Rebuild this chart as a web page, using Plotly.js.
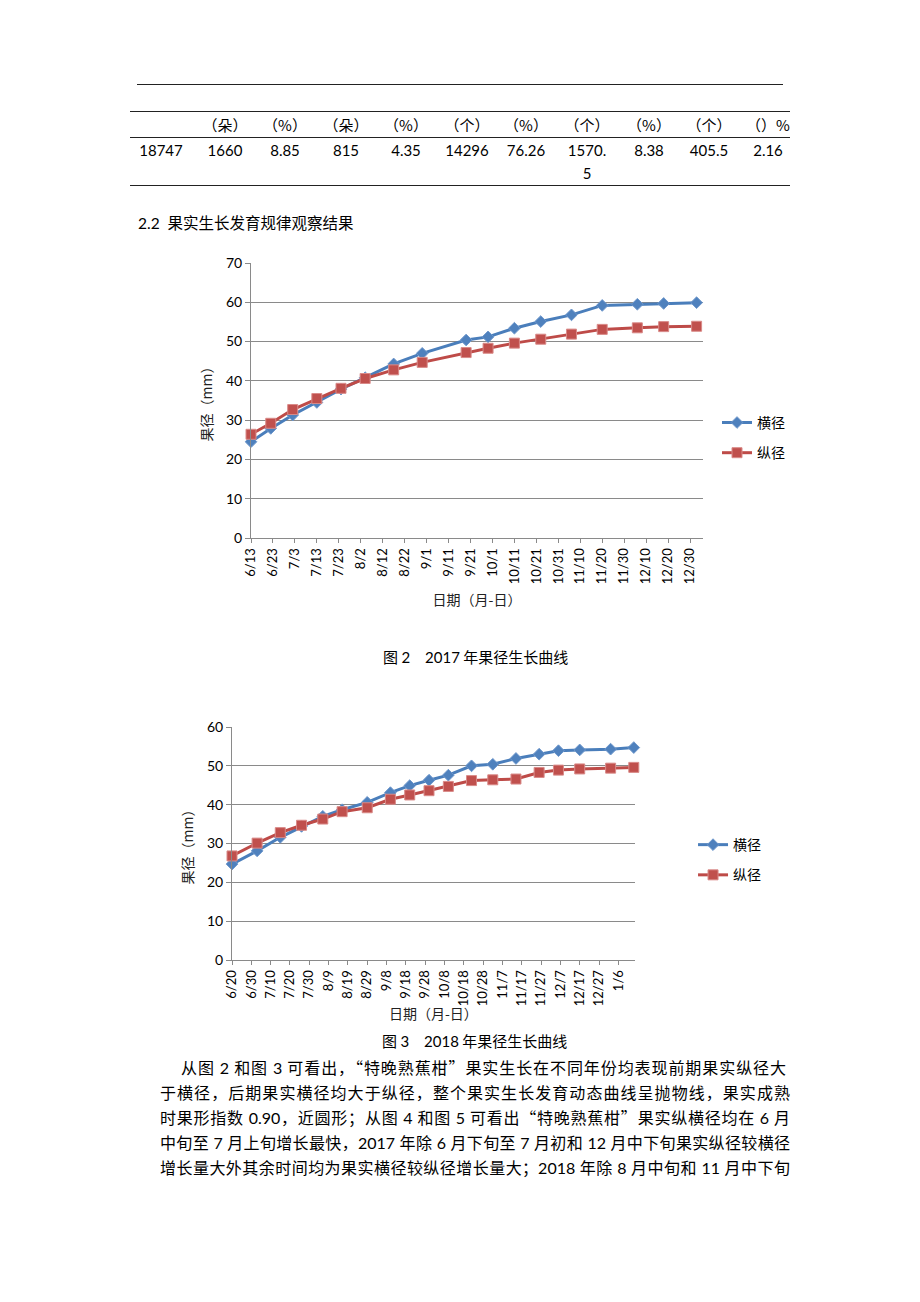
<!DOCTYPE html>
<html>
<head>
<meta charset="utf-8">
<script src="https://cdn.plot.ly/plotly-3.0.1.min.js"></script>
<style>
  html, body { margin: 0; padding: 0; background: #fff; }
  #page { position: relative; width: 920px; height: 1302px; overflow: hidden; background: #fff;
          font-family: "Lato", "Noto Sans CJK SC", sans-serif; color: #000; }
  .abs { position: absolute; white-space: nowrap; }
  .hl { position: absolute; height: 1px; background: #222; }
  .cjk { font-family: "Noto Sans CJK SC", sans-serif; }
  .cell { position: absolute; white-space: nowrap; transform: translate(-50%, -50%); font-size: 15px; }
  .para { position: absolute; font-size: 16px; line-height: 25px; height: 25px; overflow: visible;
          text-align: justify; text-align-last: justify; text-justify: inter-character; }
  .chart { position: absolute; }
</style>
</head>
<body>
<div id="page">
  <div class="hl" style="left:137px; width:646px; top:84px;"></div>
  <div class="hl" style="left:130px; width:660px; top:111px;"></div>
  <div class="hl" style="left:130px; width:660px; top:137px;"></div>
  <div class="hl" style="left:130px; width:660px; top:185px;"></div>
  <div id="table"></div>

  <div class="abs" style="left:138px; top:211px; font-size:15.5px; line-height:22px;">2.2&nbsp; <span class="cjk">果实生长发育规律观察结果</span></div>

  <div id="chart1" class="chart" style="left:150px; top:240px; width:680px; height:380px;"></div>
  <div class="abs cjk" style="left:383px; top:646px; font-size:15px; line-height:22px;">图 <span style="font-family:Lato">2</span>&emsp;<span style="font-family:Lato">2017</span> 年果径生长曲线</div>

  <div id="chart2" class="chart" style="left:130px; top:700px; width:690px; height:350px;"></div>
  <div class="abs cjk" style="left:382px; top:1030px; font-size:15px; line-height:22px;">图 <span style="font-family:Lato">3</span>&emsp;<span style="font-family:Lato">2018</span> 年果径生长曲线</div>

  <div id="text"></div>
</div>

<script>
// ---------- table data ----------
const tableHeaders = ['', '（朵）', '（%）', '（朵）', '（%）', '（个）', '（%）', '（个）', '（%）', '（个）', '（）%'];
const tableValues  = ['18747', '1660', '8.85', '815', '4.35', '14296', '76.26', '1570.', '8.38', '405.5', '2.16'];
const tableWrap    = ['', '', '', '', '', '', '', '5', '', '', ''];

// ---------- chart data: 2017 ----------
const dates2017 = ['2017-06-13','2017-06-22','2017-07-02','2017-07-13','2017-07-24','2017-08-04','2017-08-17',
                   '2017-08-30','2017-09-19','2017-09-29','2017-10-11','2017-10-23','2017-11-06','2017-11-20',
                   '2017-12-06','2017-12-18','2018-01-02'];
const heng2017 = [24.5, 27.9, 31.3, 34.5, 37.9, 40.8, 44.3, 47.0, 50.4, 51.2, 53.4, 55.1, 56.8, 59.2, 59.5, 59.7, 59.9];
const zong2017 = [26.4, 29.2, 32.7, 35.5, 38.1, 40.6, 42.8, 44.7, 47.2, 48.3, 49.6, 50.6, 51.9, 53.1, 53.5, 53.8, 53.9];

// ---------- chart data: 2018 ----------
const dates2018 = ['2018-06-20','2018-07-03','2018-07-15','2018-07-26','2018-08-06','2018-08-16','2018-08-29',
                   '2018-09-10','2018-09-20','2018-09-30','2018-10-10','2018-10-22','2018-11-02','2018-11-14',
                   '2018-11-26','2018-12-06','2018-12-17','2019-01-02','2019-01-14'];
const heng2018 = [24.7, 28.1, 31.6, 34.4, 37.0, 38.7, 40.6, 43.1, 44.9, 46.3, 47.6, 50.0, 50.4, 51.9, 53.0, 53.9, 54.1, 54.3, 54.7];
const zong2018 = [26.8, 30.1, 32.8, 34.7, 36.3, 38.2, 39.2, 41.4, 42.5, 43.6, 44.7, 46.2, 46.4, 46.6, 48.3, 48.9, 49.2, 49.4, 49.6];

const seriesNames = ['横径', '纵径'];
const xTitle = '日期（月-日）';
const yTitle = '果径（mm）';

// ---------- body text ----------
const paraLines = [
  '从图 2 和图 3 可看出，<span class="cjk">“</span>特晚熟蕉柑<span class="cjk">”</span>果实生长在不同年份均表现前期果实纵径大',
  '于横径，后期果实横径均大于纵径，整个果实生长发育动态曲线呈抛物线，果实成熟',
  '时果形指数 0.90，近圆形；从图 4 和图 5 可看出<span class="cjk">“</span>特晚熟蕉柑<span class="cjk">”</span>果实纵横径均在 6 月',
  '中旬至 7 月上旬增长最快，2017 年除 6 月下旬至 7 月初和 12 月中下旬果实纵径较横径',
  '增长量大外其余时间均为果实横径较纵径增长量大；2018 年除 8 月中旬和 11 月中下旬'
];

// ---------- build table ----------
const colX = [161, 225, 285, 346, 406, 467, 526, 587, 649, 709, 768];
const tbl = document.getElementById('table');
function addCell(txt, x, y, cls) {
  if (!txt) return;
  const d = document.createElement('div');
  d.className = 'cell' + (cls ? ' ' + cls : '');
  d.style.left = x + 'px';
  d.style.top = y + 'px';
  d.textContent = txt;
  tbl.appendChild(d);
}
tableHeaders.forEach((t, i) => addCell(t, colX[i], 124, 'cjk'));
tableValues.forEach((t, i) => addCell(t, colX[i], 150));
tableWrap.forEach((t, i) => addCell(t, colX[i], 173));

// ---------- build paragraph ----------
const txt = document.getElementById('text');
paraLines.forEach((l, i) => {
  const d = document.createElement('div');
  d.className = 'para';
  const left = i === 0 ? 181 : 160;
  d.style.left = left + 'px';
  d.style.width = (i === 0 ? 786 : 790) - left + 'px';
  d.style.top = (1055 + i * 25) + 'px';
  d.innerHTML = l;
  txt.appendChild(d);
});

// ---------- charts ----------
const LAT = 'Lato, "Noto Sans CJK SC", sans-serif';
const CJK = '"Noto Sans CJK SC", sans-serif';
const GRID = '#8a8a8a';
const BLUE_LINE = '#4A7EBB', BLUE_MK = '#4F81BD';
const RED_LINE = '#BE4B48', RED_MK = '#C0504D';
const TEN_DAYS = 10 * 24 * 3600 * 1000;

function traces(dates, heng, zong, mk) {
  return [
    { x: dates, y: heng, name: seriesNames[0], type: 'scatter', mode: 'lines+markers', legendgroup: 'a',
      cliponaxis: false,
      line: { color: BLUE_LINE, width: 3 },
      marker: { symbol: 'diamond', size: mk.d, color: BLUE_MK, line: { color: '#6f98cc', width: 1 } } },
    { x: dates, y: zong, name: seriesNames[1], type: 'scatter', mode: 'lines+markers', legendgroup: 'b',
      cliponaxis: false,
      line: { color: RED_LINE, width: 3 },
      marker: { symbol: 'square', size: mk.s, color: RED_MK, line: { color: '#d98a88', width: 1 } } }
  ];
}

function layout(o) {
  const lay = {
    width: o.w, height: o.h,
    margin: o.m,
    paper_bgcolor: 'rgba(0,0,0,0)', plot_bgcolor: 'rgba(0,0,0,0)',
    showlegend: true,
    legend: { x: o.lx, y: o.ly, xanchor: 'left', yanchor: 'middle', traceorder: 'grouped', tracegroupgap: 9,
              font: { family: CJK, size: 14, color: '#000' }, bgcolor: 'rgba(0,0,0,0)', itemwidth: 30 },
    xaxis: {
      type: 'date', range: o.xr, tick0: o.t0, dtick: TEN_DAYS, tickformat: '%-m/%-d', tickangle: -90,
      ticks: 'outside', ticklen: 4, tickcolor: GRID, showline: true, linecolor: GRID, linewidth: 1,
      showgrid: false, zeroline: false,
      tickfont: { family: LAT, size: 13, color: '#000' },
      title: { text: o.xAnn === undefined ? xTitle : '', font: { family: CJK, size: 14, color: '#222' }, standoff: o.xs || 0 }
    },
    yaxis: {
      range: o.yr, dtick: 10, ticks: 'outside', ticklen: 5, tickcolor: GRID,
      showline: true, linecolor: GRID, linewidth: 1,
      gridcolor: GRID, gridwidth: 1, zeroline: false,
      tickfont: { family: LAT, size: 14, color: '#000' },
      title: { text: yTitle, font: { family: CJK, size: 14, color: '#222' }, standoff: 10 }
    },
    annotations: []
  };
  if (o.xAnn !== undefined) {
    lay.annotations.push({ text: xTitle, xref: 'paper', yref: 'paper', x: 0.5, y: o.xAnn,
      xanchor: 'center', yanchor: 'middle', showarrow: false, font: { family: CJK, size: 14, color: '#222' } });
  }
  return lay;
}

Plotly.newPlot('chart1', traces(dates2017, heng2017, zong2017, { d: 9, s: 10 }), layout({
  w: 680, h: 380, m: { l: 101, r: 127, t: 23, b: 82, pad: 0 },
  xr: ['2017-06-13', '2018-01-04 22:00'], t0: '2017-06-13', yr: [0, 70],
  lx: 1.031, ly: 0.364, xs: 11
}), { displayModeBar: false, staticPlot: true });

Plotly.newPlot('chart2', traces(dates2018, heng2018, zong2018, { d: 9, s: 10 }), layout({
  w: 690, h: 350, m: { l: 102, r: 185, t: 27, b: 90, pad: 0 },
  xr: ['2018-06-20', '2019-01-14 15:00'], t0: '2018-06-20', yr: [0, 60],
  lx: 1.144, ly: 0.429, xAnn: -0.227
}), { displayModeBar: false, staticPlot: true });
</script>
</body>
</html>
